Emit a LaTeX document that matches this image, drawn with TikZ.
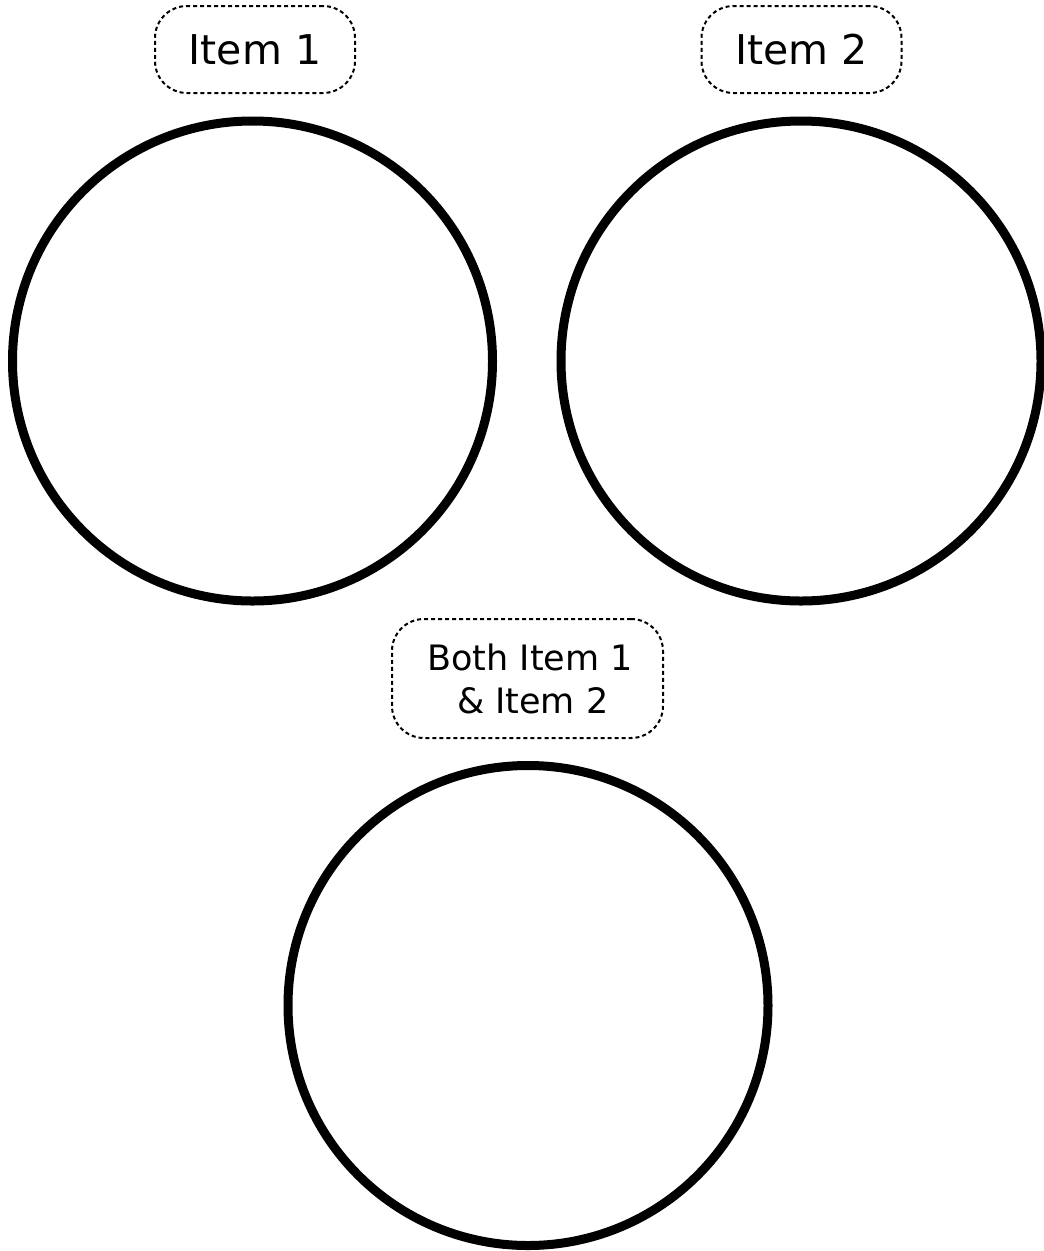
\documentclass[tikz,border=0pt]{standalone}
\usepackage{fontspec}
\setmainfont{DejaVu Sans}
\begin{document}
\begin{tikzpicture}[x=1pt,y=-1pt,
  ring/.style={draw=black, circle, line width=9pt, minimum size=480pt, inner sep=0pt},
  tag/.style={draw=black, line width=2pt, dash pattern=on 4pt off 3pt, rounded corners=32pt, inner sep=0pt, align=center},
  bigtag/.style={tag, font=\fontsize{41}{49}\selectfont, minimum width=200pt, minimum height=87pt},
  bothtag/.style={tag, font=\fontsize{35}{43}\selectfont, minimum width=271pt, minimum height=119pt}]
\useasboundingbox (0,0) rectangle (1044,1251);
\node[bigtag] (t1) at (255,49.5) {Item 1};
\node[bigtag] (t2) at (801.5,49.5) {Item 2};
\node[bothtag] (t3) at (527.5,678.5) {\hspace*{0.15em}Both Item 1\\ \hspace*{0.3em}\& Item 2};
\node[ring] (c1) at (252.5,361) {};
\node[ring] (c2) at (801,361) {};
\node[ring] (c3) at (528,1005.5) {};
\end{tikzpicture}
\end{document}
